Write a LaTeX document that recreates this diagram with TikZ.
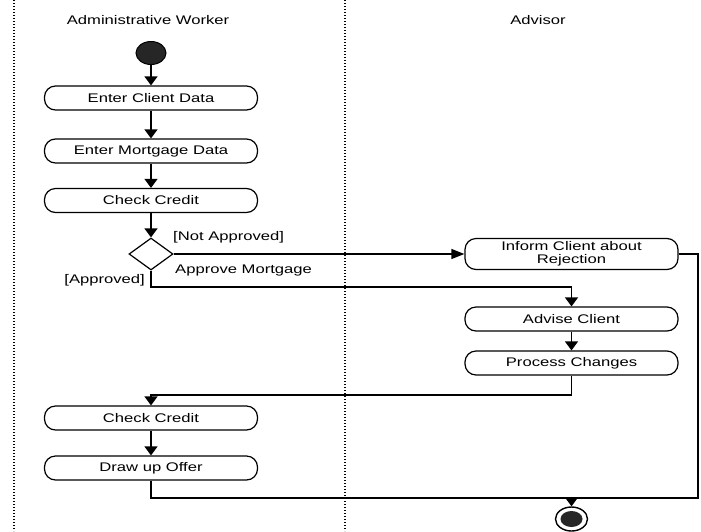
\documentclass[tikz,border=0pt]{standalone}
\usepackage{fontspec}
\setmainfont[FakeStretch=1.33]{Liberation Sans}
\usetikzlibrary{arrows.meta,shapes.geometric}

\begin{document}
\begin{tikzpicture}[x=1pt,y=-1pt,
  lane/.style={line width=1.3pt, dash pattern=on 1.3pt off 1.7pt},
  flow/.style={line width=1.2pt},
  txt/.style={font=\fontsize{12.5}{13.5}\selectfont},
  activity/.style={txt, draw, line width=1.2pt, rounded corners=11pt,
    minimum width=213pt, minimum height=24pt, inner sep=0pt, align=center},
  vhead/.style={-{Triangle[width=13pt,length=9pt]}},
  hhead/.style={-{Triangle[width=10pt,length=13pt]}},
  lbl/.style={txt, inner sep=0pt},
]
\useasboundingbox (0,0) rectangle (701,531);

% swimlane separators
\coordinate (laneAtop) at (14,0);
\coordinate (laneAbot) at (14,531);
\coordinate (laneBtop) at (345,0);
\coordinate (laneBbot) at (345,531);
\draw[lane] (laneAtop) -- (laneAbot);
\draw[lane] (laneBtop) -- (laneBbot);

% lane titles
\node[lbl] (hworker) at (148,20) {Administrative Worker};
\node[lbl] (hadvisor) at (538,20) {Advisor};

% initial and final states
\node[ellipse, draw, fill=black!85, line width=1pt, minimum width=30pt,
  minimum height=23pt, inner sep=0pt] (start) at (151,53) {};
\node[ellipse, draw, line width=1.4pt, minimum width=32pt,
  minimum height=24pt, inner sep=0pt] (end) at (571.5,519) {};
\node[ellipse, fill=black!85, minimum width=22pt, minimum height=16pt,
  inner sep=0pt] (endcore) at (end) {};

% administrative worker activities
\node[activity] (ecd) at (151,98) {Enter Client Data};
\node[activity] (emd) at (151,151) {Enter Mortgage Data};
\node[activity] (cc1) at (151,200.5) {Check Credit};
\node[diamond, draw, line width=1.2pt, minimum width=44pt, minimum height=32pt,
  inner sep=0pt] (dec) at (151,254) {};
\node[activity] (cc2) at (151,418) {Check Credit};
\node[activity] (offer) at (151,468) {Draw up Offer};

% advisor activities
\node[activity, minimum height=31pt] (inform) at (571.5,254)
  {Inform Client about\\Rejection};
\node[activity] (advise) at (571.5,319) {Advise Client};
\node[activity] (pc) at (571.5,363) {Process Changes};

% guards and decision label
\node[lbl, anchor=west] (gnot) at (173,237) {[Not Approved]};
\node[lbl, anchor=west] (gname) at (175,270) {Approve Mortgage};
\node[lbl, anchor=east] (gyes) at (145,280) {[Approved]};

% routing points
\coordinate (apprv) at (151,287);
\coordinate (loop) at (571.5,395);
\coordinate (merge) at (571.5,498);
\coordinate (rjcorner) at (698,498);

% control flow
\draw[flow,vhead] (start) -- (ecd);
\draw[flow,vhead] (ecd) -- (emd);
\draw[flow,vhead] (emd) -- (cc1);
\draw[flow,vhead] (cc1) -- (dec);
\draw[flow,hhead] (dec.east) -- (inform.west);
\draw[flow,vhead] (dec.south) -- (apprv) -| (advise.north);
\draw[flow,vhead] (advise) -- (pc);
\draw[flow,vhead] (pc.south) -- (loop) -| (cc2.north);
\draw[flow,vhead] (cc2) -- (offer);
\draw[flow] (inform.east) -| (rjcorner) -- (merge);
\draw[flow] (offer.south) |- (merge);
\draw[flow,vhead] (merge) -- (end);
\end{tikzpicture}
\end{document}
